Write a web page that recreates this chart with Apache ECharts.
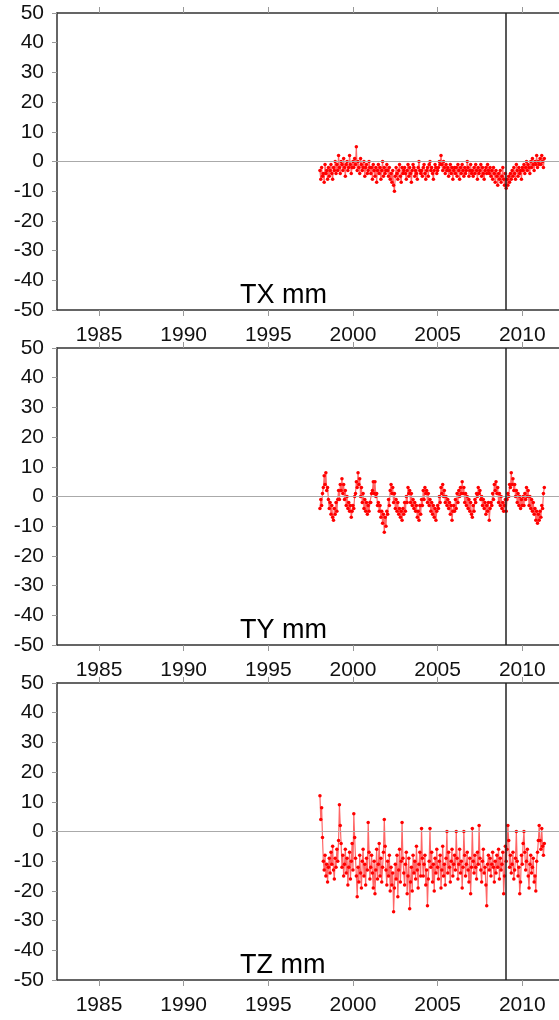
<!DOCTYPE html>
<html>
<head>
<meta charset="utf-8">
<script src="https://cdn.jsdelivr.net/npm/echarts@6/dist/echarts.min.js"></script>
<style>
html, body { margin: 0; padding: 0; background: #fff; }
#chart { width: 559px; height: 1020px; }
</style>
</head>
<body>
<div id="chart"></div>
<script>
// panel names and tick labels
const panelTitles = ['TX mm', 'TY mm', 'TZ mm']
const yearTicks = [1985, 1990, 1995, 2000, 2005, 2010]
const valueMin = -50
const valueMax = 50
const valueStep = 10

// samples every 0.05 yr starting 1998.05
const firstEpoch = 1998.05
const epochStep = 0.05
const markerYear = 2009.0

// one row = one year
const tx = [
  -3,-6,-2,-5,-4,-7,-1,-4,-3,-6,-2,-5,-3,-1,-4,-6,-2,-3,0,-4,
  -1,-3,2,-2,-4,0,-1,-3,1,-2,-5,-1,0,-3,-2,2,-1,-4,-2,0,
  -2,1,-1,5,-3,0,-2,-4,1,-1,-3,-2,0,-5,-2,-1,-4,-3,0,-2,
  -4,-2,-6,-1,-3,-5,-2,-7,-3,-1,-4,-2,-6,-3,0,-5,-2,-4,-3,-1,
  -3,-5,-2,-6,-4,-7,-3,-8,-10,-5,-2,-4,-6,-3,-1,-5,-7,-2,-4,-3,
  -2,-4,-6,-3,-1,-5,-2,-4,-7,-3,-1,-2,-5,-3,-4,-6,-2,0,-3,-4,
  -3,-5,-2,-1,-4,-6,-3,-2,-5,-1,0,-3,-2,-4,-6,-3,-1,-2,-4,-3,
  -2,0,-1,2,-1,-3,0,-2,-4,-1,-3,-2,-5,-3,-1,-4,-2,-6,-3,-2,
  -4,-2,-5,-1,-3,-6,-2,-4,-1,-3,-5,-2,-4,-3,0,-2,-5,-3,-1,-4,
  -3,-5,-2,-4,-1,-3,-6,-2,-4,-3,-1,-5,-2,-4,-6,-3,-2,-4,-1,-3,
  -4,-2,-5,-3,-6,-2,-4,-7,-3,-5,-8,-4,-6,-3,-7,-5,-2,-6,-8,-4,
  -9,-6,-8,-5,-7,-4,-6,-3,-5,-2,-4,-6,-1,-3,-5,-2,-4,-3,-6,-2,
  -3,-1,-4,-2,0,-3,-1,-2,-4,0,-2,1,-1,-3,0,-1,2,-2,0,-1,
  1,-1,2,0,-2,1
]

const ty = [
  -4,-1,-3,1,3,7,4,8,2,3,-1,-4,-2,-6,-3,-7,-8,-4,-6,-2,
  -5,-1,2,-1,4,2,6,1,4,-1,2,-3,0,-4,-2,-5,-3,-7,-5,-3,
  -4,0,1,5,3,8,4,6,0,3,-2,1,-4,-1,-5,-2,-6,-3,-5,-2,
  -2,1,2,5,1,5,0,1,-3,-2,-5,-3,-7,-5,-9,-6,-12,-7,-10,-5,
  -6,-1,-3,2,4,1,3,-2,1,-4,-1,-5,-2,-6,-4,-7,-5,-8,-4,-6,
  -2,-5,0,-2,3,1,2,-2,1,-3,-1,-4,-2,-5,-3,-7,-5,-8,-3,-6,
  -1,-3,2,-1,3,1,2,-2,1,-3,-1,-5,-2,-6,-3,-7,-4,-8,-5,-3,
  -4,0,-2,3,1,4,0,2,-2,0,-3,-1,-4,-2,-6,-3,-8,-5,-3,-5,
  -1,-4,1,-2,2,0,3,1,5,1,3,-2,1,-3,0,-4,-1,-5,-2,-6,
  -7,-3,-5,-1,-2,1,0,3,1,2,-1,0,-3,-1,-4,-2,-6,-3,-5,-2,
  -8,-4,-2,-3,1,-1,4,2,5,1,3,-2,1,-3,0,-4,-2,-5,-3,-1,
  -5,-1,1,0,4,3,8,4,6,2,4,0,2,-2,1,-3,0,-4,-1,-3,
  0,-3,1,-1,3,0,2,-3,0,-4,-1,-5,-2,-6,-4,-8,-5,-9,-6,-8,
  -5,-7,-3,-4,1,3
]

const tz = [
  12,4,8,-2,-10,-13,-8,-15,-11,-17,-12,-9,-14,-7,-11,-5,-13,-16,-9,-12,
  -6,-10,-3,9,2,-4,-12,-8,-15,-11,-6,-14,-9,-18,-12,-7,-16,-10,-4,-13,
  6,-2,-9,-15,-22,-12,-17,-8,-14,-19,-10,-6,-15,-11,-18,-9,-13,3,-7,-16,
  -12,-8,-14,-19,-10,-21,-13,-6,-16,-11,-4,-15,-9,-17,-12,-7,4,-5,-13,-18,
  -10,-15,-8,-20,-12,-18,-14,-27,-19,-11,-16,-8,-22,-13,-6,-17,-10,3,-9,-14,
  -18,-11,-7,-21,-15,-9,-26,-17,-12,-20,-8,-14,-10,-16,-5,-13,-19,-11,-7,-15,
  1,-9,-15,-11,-8,-18,-13,-25,-16,-10,1,-12,-7,-17,-11,-20,-9,-14,-6,-12,
  -16,-10,-8,-19,-13,-5,-15,-11,-18,-9,0,-14,-7,-12,-17,-10,-6,-15,-11,-8,
  -13,0,-9,-16,-11,-6,-14,-10,-19,-12,0,-8,-15,-11,-7,-13,-17,-9,-21,-12,
  1,-10,-14,-8,-12,-16,-7,-11,2,-9,-13,-17,-10,-6,-14,-12,-18,-25,-11,-8,
  -13,-9,-15,-11,-7,-12,-17,-10,-14,-8,-12,-6,-16,-9,-13,-11,-7,-21,-15,-5,
  -10,-6,2,-3,-12,-8,-14,-11,-7,-16,-13,-9,0,-10,-15,-12,-21,-17,-8,-11,
  -4,0,-7,-13,-10,-6,-15,-19,-11,-8,-14,-12,-9,-17,-15,-20,-10,-7,-3,2,
  -3,-6,1,-5,-8,-4
]

const panelData = [tx, ty, tz]

const gridTops = [13, 348, 683]
const plotHeight = 297
const xMin = 1982.52
const xMax = 2014
const labelFont = '"Liberation Sans", Arial, sans-serif'

function toPoints(values) {
  return values.map((v, k) => [firstEpoch + k * epochStep, v])
}

const grids = []
const xAxes = []
const yAxes = []
const series = []
const titles = []

panelData.forEach((values, i) => {
  grids.push({
    left: 57,
    top: gridTops[i],
    height: plotHeight,
    width: 533,
    outerBoundsMode: 'none',
    containLabel: false,
    show: false
  })
  // bottom axis with labels
  xAxes.push({
    type: 'value',
    gridIndex: i,
    position: 'bottom',
    min: xMin,
    max: xMax,
    axisLine: { show: true, onZero: false, lineStyle: { color: '#333', width: 1.5 } },
    axisTick: { show: true, customValues: yearTicks, length: 6, lineStyle: { color: '#999' } },
    axisLabel: {
      customValues: yearTicks,
      formatter: v => String(v),
      fontSize: 21,
      fontFamily: labelFont,
      color: '#111',
      margin: 15
    },
    splitLine: { show: false }
  })
  // top frame with ticks only
  xAxes.push({
    type: 'value',
    gridIndex: i,
    position: 'top',
    min: xMin,
    max: xMax,
    axisLine: { show: true, onZero: false, lineStyle: { color: '#333', width: 1.5 } },
    axisTick: { show: true, customValues: yearTicks, length: 6, lineStyle: { color: '#999' } },
    axisLabel: { show: false },
    splitLine: { show: false }
  })
  yAxes.push({
    type: 'value',
    gridIndex: i,
    min: valueMin,
    max: valueMax,
    interval: valueStep,
    axisLine: { show: true, onZero: false, lineStyle: { color: '#333', width: 1.5 } },
    axisTick: { show: true, length: 5, lineStyle: { color: '#999' } },
    axisLabel: {
      fontSize: 21,
      fontFamily: labelFont,
      color: '#111',
      margin: 13
    },
    splitLine: { show: false }
  })
  series.push({
    type: 'line',
    xAxisIndex: i * 2,
    yAxisIndex: i,
    data: toPoints(values),
    symbol: 'circle',
    symbolSize: 3.5,
    showSymbol: true,
    lineStyle: { color: '#ff0000', width: 1.2, opacity: 0.6 },
    itemStyle: { color: '#ff0000' },
    markLine: {
      silent: true,
      symbol: 'none',
      label: { show: false },
      data: [
        { yAxis: 0, lineStyle: { color: '#aaa', width: 1, type: 'solid' } },
        { xAxis: markerYear, lineStyle: { color: '#222', width: 1.5, type: 'solid' } }
      ]
    }
  })
  titles.push({
    text: panelTitles[i],
    left: 240,
    top: gridTops[i] + 269,
    padding: 0,
    textStyle: {
      fontSize: 27,
      fontWeight: 'normal',
      fontFamily: '"Liberation Sans", Arial, sans-serif',
      color: '#000'
    }
  })
})

const chart = echarts.init(document.getElementById('chart'))
chart.setOption({
  animation: false,
  backgroundColor: '#fff',
  title: titles,
  grid: grids,
  xAxis: xAxes,
  yAxis: yAxes,
  series: series
})
</script>
</body>
</html>
